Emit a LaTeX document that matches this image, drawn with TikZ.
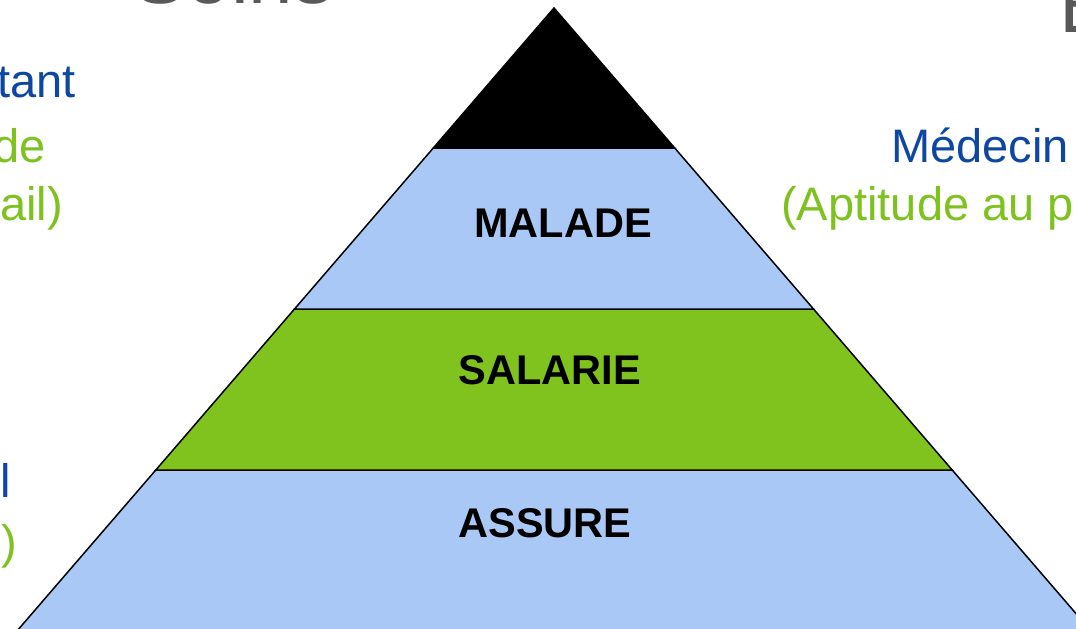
\documentclass[tikz,border=0pt]{standalone}
\usepackage{fontspec}
\setmainfont{Liberation Sans}
\definecolor{txtblue}{RGB}{14,71,161}
\definecolor{txtgreen}{RGB}{126,194,32}
\definecolor{fillgreen}{RGB}{128,195,30}
\definecolor{fillblue}{RGB}{169,200,246}
\definecolor{titlegray}{RGB}{89,89,89}
\tikzset{
  layer/.style={draw=black,line width=1.5pt,line join=miter},
  lbl/.style={inner sep=0pt,font=\fontsize{41.5}{41.5}\selectfont\bfseries,text=black,anchor=base},
  sidetxt/.style={inner sep=0pt,font=\fontsize{47}{47}\selectfont},
  titletxt/.style={inner sep=0pt,font=\fontsize{80}{80}\selectfont,text=titlegray},
}
\begin{document}
\begin{tikzpicture}[x=1pt,y=-1pt]
\useasboundingbox (0,0) rectangle (1076,629);
\clip (0,0) rectangle (1076,629);
% pyramid layers
\path[layer,fill=fillblue] (155.8,470) -- (952.2,470) -- (1098.8,640) -- (9.2,640) -- cycle;
\path[layer,fill=fillgreen] (294.5,309) -- (813.5,309) -- (952.2,470) -- (155.8,470) -- cycle;
\path[layer,fill=fillblue] (433.3,148) -- (674.7,148) -- (813.5,309) -- (294.5,309) -- cycle;
\path[layer,fill=black] (554,8) -- (674.7,148) -- (433.3,148) -- cycle;
% layer labels
\node[lbl] (malade) at (563,237) {MALADE};
\node[lbl] (salarie) at (550,384) {SALARIE};
\node[lbl] (assure) at (545,537) {ASSURE};
% partially visible title texts
\node[titletxt,anchor=base west] (soins) at (133,3) {Soins};
\node[titletxt,anchor=base west] (etitle) at (1059,32) {E};
% left texts
\node[sidetxt,text=txtblue,anchor=base east] (tant) at (76,97) {tant};
\node[sidetxt,text=txtgreen,anchor=base east] (de) at (46,162) {de};
\node[sidetxt,text=txtgreen,anchor=base east] (ail) at (63,220) {ail)};
\node[sidetxt,text=txtblue,anchor=base west] (ell) at (0,497) {l};
\node[sidetxt,text=txtgreen,anchor=base west] (paren) at (1.5,558) {)};
% right texts
\node[sidetxt,text=txtblue,anchor=base west] (medecin) at (891,162) {Médecin};
\node[sidetxt,text=txtgreen,anchor=base west] (aptitude) at (781,220) {(Aptitude au p};
\end{tikzpicture}
\end{document}
